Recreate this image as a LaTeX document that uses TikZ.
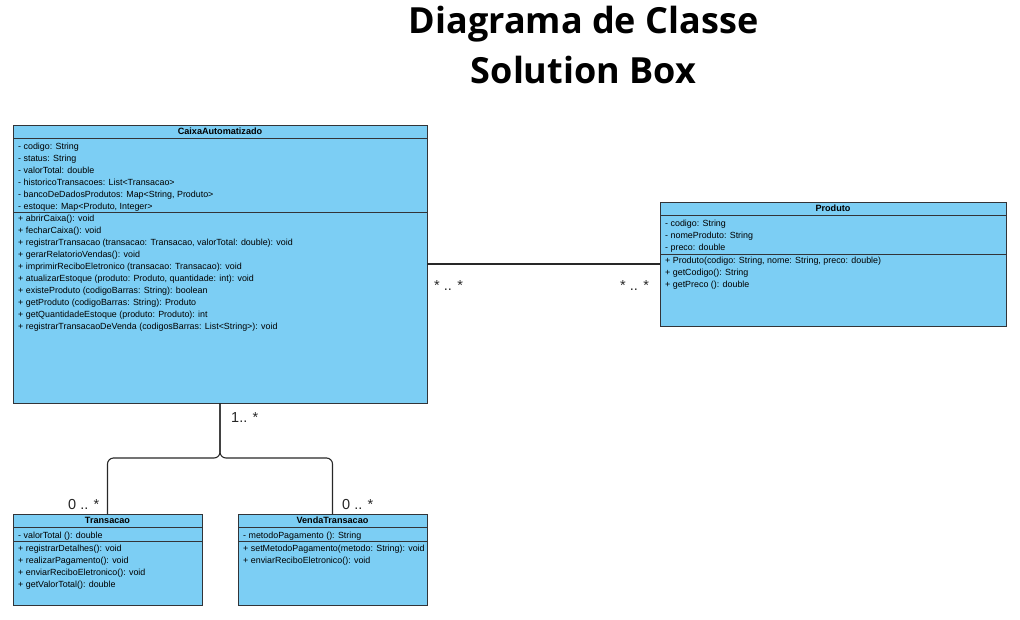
\documentclass[tikz,border=0pt]{standalone}
\usepackage{fontspec}
\setmainfont{Liberation Sans}
\newfontfamily\titlefont{Open Sans}
\definecolor{boxblue}{RGB}{124,206,244}
\definecolor{boxline}{RGB}{50,52,56}
\definecolor{conn}{RGB}{40,40,40}
\begin{document}
\begin{tikzpicture}[x=1pt,y=-1pt,
  classbox/.style={draw=boxline,fill=boxblue,line width=0.9pt,anchor=north west,inner sep=0,outer sep=0},
  classhead/.style={font=\fontsize{9.1}{10}\selectfont\bfseries,inner sep=0,anchor=base},
  member/.style={font=\fontsize{8.9}{10}\selectfont,inner sep=0,anchor=base west},
  mult/.style={font=\fontsize{14.5}{16}\selectfont,inner sep=0,anchor=base west,text=black!85},
  divider/.style={draw=boxline,line width=0.9pt},
  connector/.style={draw=conn,line width=1.1pt},
  titletext/.style={font=\titlefont\fontsize{36}{40}\selectfont\bfseries,inner sep=0,anchor=base}]
\useasboundingbox (0,0) rectangle (1020,619);
% title
\node[titletext] (t1) at (583.5,33) {Diagrama de Classe};
\node[titletext] (t2) at (583.5,83) {Solution Box};

% CaixaAutomatizado
\node[classbox,minimum width=414pt,minimum height=278pt] (ca) at (13,125) {};
\node[classhead] (cah) at (220,134.5) {CaixaAutomatizado};
\draw[divider] (13,138.5) -- (427,138.5);
\draw[divider] (13,212.5) -- (427,212.5);
\foreach \t [count=\i] in {{- codigo: String},{- status: String},{- valorTotal: double},{- historicoTransacoes: List<Transacao>},{- bancoDeDadosProdutos: Map<String, Produto>},{- estoque: Map<Produto, Integer>}}
  \node[member] (caa\i) at (18,{146+3+(\i-1)*12}) {\t};
\foreach \t [count=\i] in {{+ abrirCaixa(): void},{+ fecharCaixa(): void},{+ registrarTransacao (transacao: Transacao, valorTotal: double): void},{+ gerarRelatorioVendas(): void},{+ imprimirReciboEletronico (transacao: Transacao): void},{+ atualizarEstoque (produto: Produto, quantidade: int): void},{+ existeProduto (codigoBarras: String): boolean},{+ getProduto (codigoBarras: String): Produto},{+ getQuantidadeEstoque (produto: Produto): int},{+ registrarTransacaoDeVenda (codigosBarras: List<String>): void}}
  \node[member] (cam\i) at (18,{218+3+(\i-1)*12}) {\t};

% Produto
\node[classbox,minimum width=346pt,minimum height=124pt] (pr) at (660,202) {};
\node[classhead] (prh) at (833,211.5) {Produto};
\draw[divider] (660,215.5) -- (1006,215.5);
\draw[divider] (660,254.5) -- (1006,254.5);
\foreach \t [count=\i] in {{- codigo: String},{- nomeProduto: String},{- preco: double}}
  \node[member] (pra\i) at (665,{223+3+(\i-1)*12}) {\t};
\foreach \t [count=\i] in {{+ Produto(codigo: String, nome: String, preco: double)},{+ getCodigo(): String},{+ getPreco (): double}}
  \node[member] (prm\i) at (665,{260+3+(\i-1)*12}) {\t};

% Transacao
\node[classbox,minimum width=189pt,minimum height=91pt] (tr) at (13,514) {};
\node[classhead] (trh) at (107.5,523.5) {Transacao};
\draw[divider] (13,527.5) -- (202,527.5);
\draw[divider] (13,541.5) -- (202,541.5);
\node[member] (tra1) at (18,538) {- valorTotal (): double};
\foreach \t [count=\i] in {{+ registrarDetalhes(): void},{+ realizarPagamento(): void},{+ enviarReciboEletronico(): void},{+ getValorTotal(): double}}
  \node[member] (trm\i) at (18,{548+3+(\i-1)*12}) {\t};

% VendaTransacao
\node[classbox,minimum width=189pt,minimum height=91pt] (vt) at (238,514) {};
\node[classhead] (vth) at (332.5,523.5) {VendaTransacao};
\draw[divider] (238,527.5) -- (427,527.5);
\draw[divider] (238,541.5) -- (427,541.5);
\node[member] (vta1) at (243,538) {- metodoPagamento (): String};
\foreach \t [count=\i] in {{+ setMetodoPagamento(metodo: String): void},{+ enviarReciboEletronico(): void}}
  \node[member] (vtm\i) at (243,{548+3+(\i-1)*12}) {\t};

% connectors
\draw[connector] (ca.east) -- (pr.west);
\coordinate (junc) at (220,458);
\draw[connector,rounded corners=6pt] (ca.south) -- (junc) -| (tr.north);
\draw[connector,rounded corners=6pt] (ca.south) -- (junc) -| (vt.north);

% multiplicities
\node[mult] (m1) at (434,290) {* .. *};
\node[mult] (m2) at (620,290) {* .. *};
\node[mult] (m3) at (231,422) {1.. *};
\node[mult] (m4) at (68,509) {0 .. *};
\node[mult] (m5) at (342,509) {0 .. *};
\end{tikzpicture}
\end{document}
